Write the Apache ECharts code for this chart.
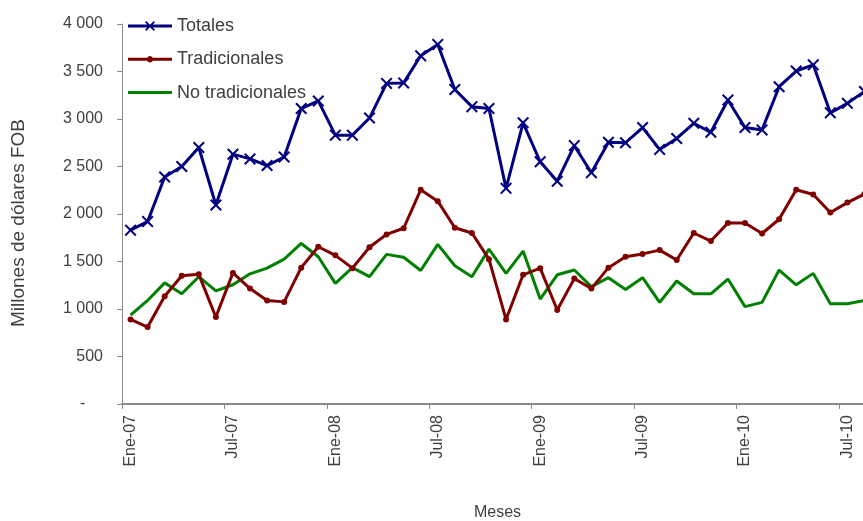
<!DOCTYPE html>
<html>
<head>
<meta charset="utf-8">
<script src="https://cdn.jsdelivr.net/npm/echarts@6/dist/echarts.min.js"></script>
<style>
html,body{margin:0;padding:0;background:#fff;}
#chart{width:863px;height:521px;}
</style>
</head>
<body>
<div id="chart"></div>
<script>
const categories = [
  'Ene-07','Feb-07','Mar-07','Abr-07','May-07','Jun-07','Jul-07','Ago-07','Sep-07','Oct-07','Nov-07','Dic-07',
  'Ene-08','Feb-08','Mar-08','Abr-08','May-08','Jun-08','Jul-08','Ago-08','Sep-08','Oct-08','Nov-08','Dic-08',
  'Ene-09','Feb-09','Mar-09','Abr-09','May-09','Jun-09','Jul-09','Ago-09','Sep-09','Oct-09','Nov-09','Dic-09',
  'Ene-10','Feb-10','Mar-10','Abr-10','May-10','Jun-10','Jul-10','Ago-10'
];
const totales = [1830,1920,2390,2500,2700,2095,2630,2580,2510,2600,3110,3190,2830,2830,3010,3375,3380,3665,3785,3310,3130,3110,2270,2960,2550,2345,2720,2435,2755,2750,2910,2680,2795,2955,2860,3200,2910,2885,3340,3505,3570,3065,3165,3290];
const tradicionales = [890,810,1135,1350,1365,915,1380,1215,1090,1075,1435,1655,1565,1430,1650,1785,1850,2255,2135,1855,1800,1525,890,1360,1430,990,1320,1215,1435,1550,1580,1620,1515,1800,1715,1905,1905,1795,1945,2255,2205,2015,2120,2210];
const noTradicionales = [935,1090,1275,1160,1340,1190,1255,1370,1430,1525,1690,1550,1270,1435,1340,1575,1545,1405,1680,1455,1340,1630,1375,1610,1105,1360,1410,1235,1330,1205,1330,1070,1295,1160,1160,1315,1025,1070,1410,1255,1375,1055,1055,1090];

const FONT = 'Liberation Sans, Arial, sans-serif';
const TXT = '#404040';
const xSymbol = 'path://M0,1.2 L1.2,0 L5,3.8 L8.8,0 L10,1.2 L6.2,5 L10,8.8 L8.8,10 L5,6.2 L1.2,10 L0,8.8 L3.8,5 Z';
// legend icons (44 x 10 box)
const iconTotales = 'path://M0,3.5 L44,3.5 L44,6.5 L0,6.5 Z M17,1.2 L18.2,0 L22,3.8 L25.8,0 L27,1.2 L23.2,5 L27,8.8 L25.8,10 L22,6.2 L18.2,10 L17,8.8 L20.8,5 Z';
const iconTrad = 'path://M0,3.5 L44,3.5 L44,6.5 L0,6.5 Z M25.2,5 L24.77,6.6 L23.6,7.77 L22,8.2 L20.4,7.77 L19.23,6.6 L18.8,5 L19.23,3.4 L20.4,2.23 L22,1.8 L23.6,2.23 L24.77,3.4 Z';
const iconNoTrad = 'path://M0,3.5 L44,3.5 L44,6.5 L0,6.5 Z';

const chart = echarts.init(document.getElementById('chart'), null, {renderer: 'canvas'});
chart.setOption({
  backgroundColor: '#ffffff',
  animation: false,
  textStyle: {fontFamily: FONT},
  grid: {left: 122, top: 24, bottom: 117, width: 751, containLabel: false, outerBoundsMode: 'none'},
  legend: {
    orient: 'vertical',
    left: 128,
    top: 17,
    padding: 0,
    itemWidth: 44,
    itemHeight: 10,
    itemGap: 15.3,
    symbolKeepAspect: true,
    textStyle: {fontFamily: FONT, fontSize: 18, color: TXT, lineHeight: 18},
    data: [
      {name: 'Totales', icon: iconTotales},
      {name: 'Tradicionales', icon: iconTrad},
      {name: 'No tradicionales', icon: iconNoTrad}
    ]
  },
  xAxis: {
    type: 'category',
    data: categories,
    boundaryGap: true,
    name: 'Meses',
    nameLocation: 'middle',
    nameGap: 101,
    nameTextStyle: {fontFamily: FONT, fontSize: 16, color: TXT},
    axisLine: {lineStyle: {color: '#8a8a8a', width: 2}},
    axisTick: {show: true, interval: 5, length: 5, lineStyle: {color: '#8a8a8a', width: 1}},
    axisLabel: {interval: 5, rotate: 90, margin: 11, fontSize: 16, color: TXT, fontFamily: FONT}
  },
  yAxis: {
    type: 'value',
    min: 0,
    max: 4000,
    interval: 500,
    splitLine: {show: false},
    axisLine: {show: true, lineStyle: {color: '#8a8a8a', width: 1}},
    axisTick: {show: true, length: 5, lineStyle: {color: '#8a8a8a'}},
    axisLabel: {
      margin: 19, fontSize: 16, color: TXT, fontFamily: FONT,
      formatter: function (v) {
        if (v === 0) return '-    ';
        return String(v).replace(/\B(?=(\d{3})+(?!\d))/g, ' ');
      }
    }
  },
  graphic: [{
    type: 'text',
    x: 19,
    y: 223,
    rotation: Math.PI / 2,
    style: {
      text: 'Millones de dólares FOB',
      fontFamily: FONT,
      fontSize: 19,
      fill: TXT,
      textAlign: 'center',
      textVerticalAlign: 'middle'
    }
  }],
  series: [
    {
      name: 'Totales',
      type: 'line',
      data: totales,
      symbol: xSymbol,
      symbolSize: 12,
      showSymbol: true,
      showAllSymbol: true,
      lineStyle: {color: '#000080', width: 3},
      itemStyle: {color: '#000080'},
      z: 3
    },
    {
      name: 'Tradicionales',
      type: 'line',
      data: tradicionales,
      symbol: 'circle',
      symbolSize: 6,
      showAllSymbol: true,
      lineStyle: {color: '#800000', width: 3},
      itemStyle: {color: '#800000'},
      z: 2
    },
    {
      name: 'No tradicionales',
      type: 'line',
      data: noTradicionales,
      symbol: 'none',
      showSymbol: false,
      lineStyle: {color: '#008000', width: 3},
      itemStyle: {color: '#008000'},
      z: 1
    }
  ]
});
</script>
</body>
</html>
